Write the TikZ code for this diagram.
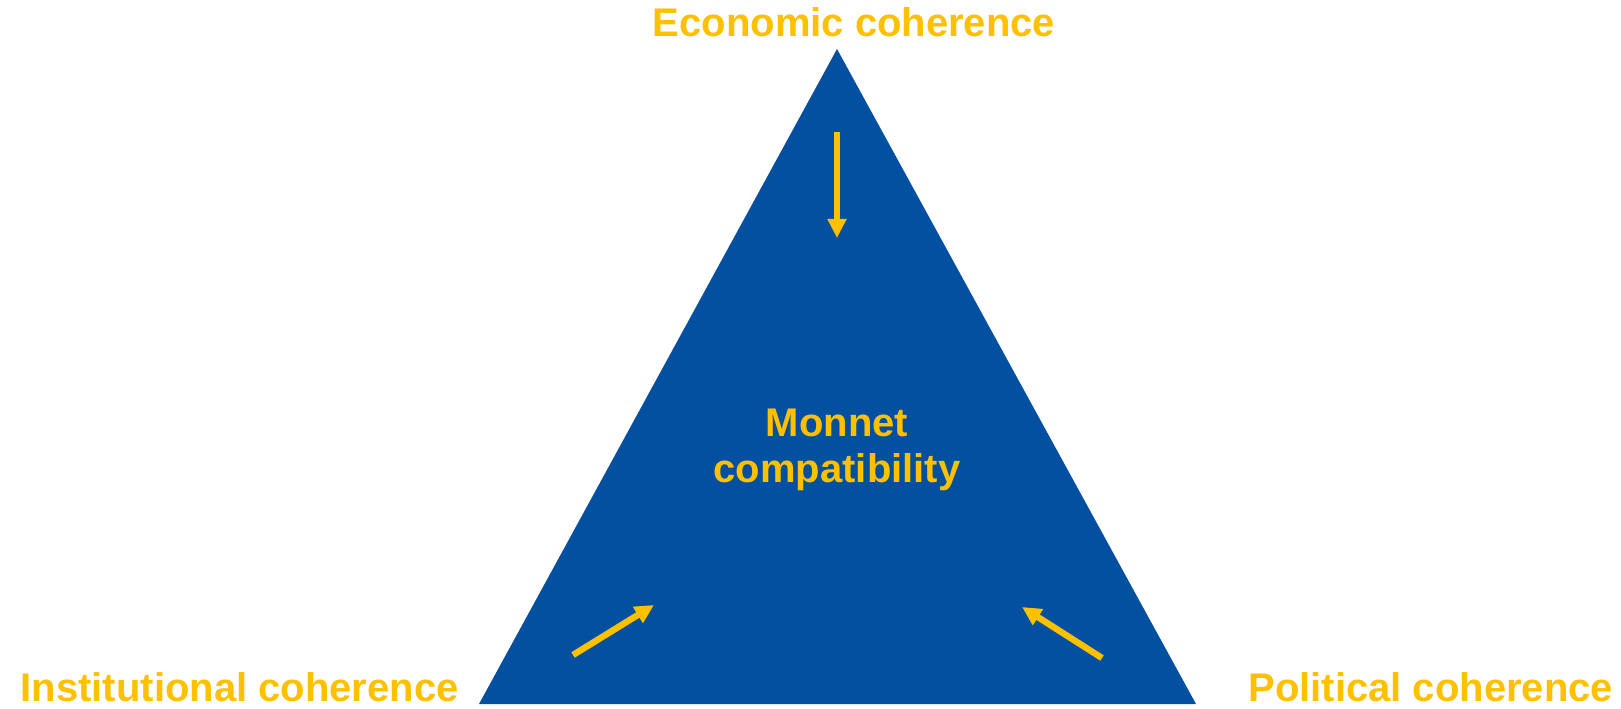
\documentclass[tikz,border=0pt]{standalone}
\usepackage{fontspec}
\setmainfont{Liberation Sans}
\usepackage{tikz}
\usetikzlibrary{positioning}
\usetikzlibrary{arrows.meta}
\definecolor{monnetblue}{HTML}{0350A1}
\definecolor{monnetgold}{HTML}{FFC000}
\tikzset{
titlenode/.style={text=monnetgold, inner sep=0pt, font=\bfseries\fontsize{20}{23}\selectfont},
goldarrow/.style={draw=monnetgold, line width=3.2pt, -{Triangle[length=9.5pt,width=9pt]}}
}

\begin{document}
\begin{tikzpicture}[x=0.5pt, y=0.5pt]
\useasboundingbox (0,0) rectangle (1621,708);
%Corners
\coordinate (apex) at (837,659);
\coordinate (bl) at (479,4);
\coordinate (br) at (1196,4);
\fill[monnetblue] (apex) -- (bl) -- (br) -- cycle;

%Nodes
\node[titlenode] (econ) [above=6pt of apex, xshift=8.5pt] {Economic coherence};
\node[titlenode] (inst) [base left=10pt of bl, yshift=1.5pt] {Institutional coherence};
\node[titlenode] (pol) [base right=26pt of br, yshift=1.5pt] {Political coherence};
\node[titlenode, align=center] (monnet) at (837,258) {Monnet\\compatibility};

%Arrows
\coordinate (econtail) at (837,576);
\coordinate (econtip) at (837,470);
\coordinate (insttail) at (573,53);
\coordinate (insttip) at (654,103);
\coordinate (poltail) at (1102,50);
\coordinate (poltip) at (1022,101);
\draw[goldarrow] (econtail) -- (econtip);
\draw[goldarrow] (insttail) -- (insttip);
\draw[goldarrow] (poltail) -- (poltip);
\end{tikzpicture}
\end{document}
